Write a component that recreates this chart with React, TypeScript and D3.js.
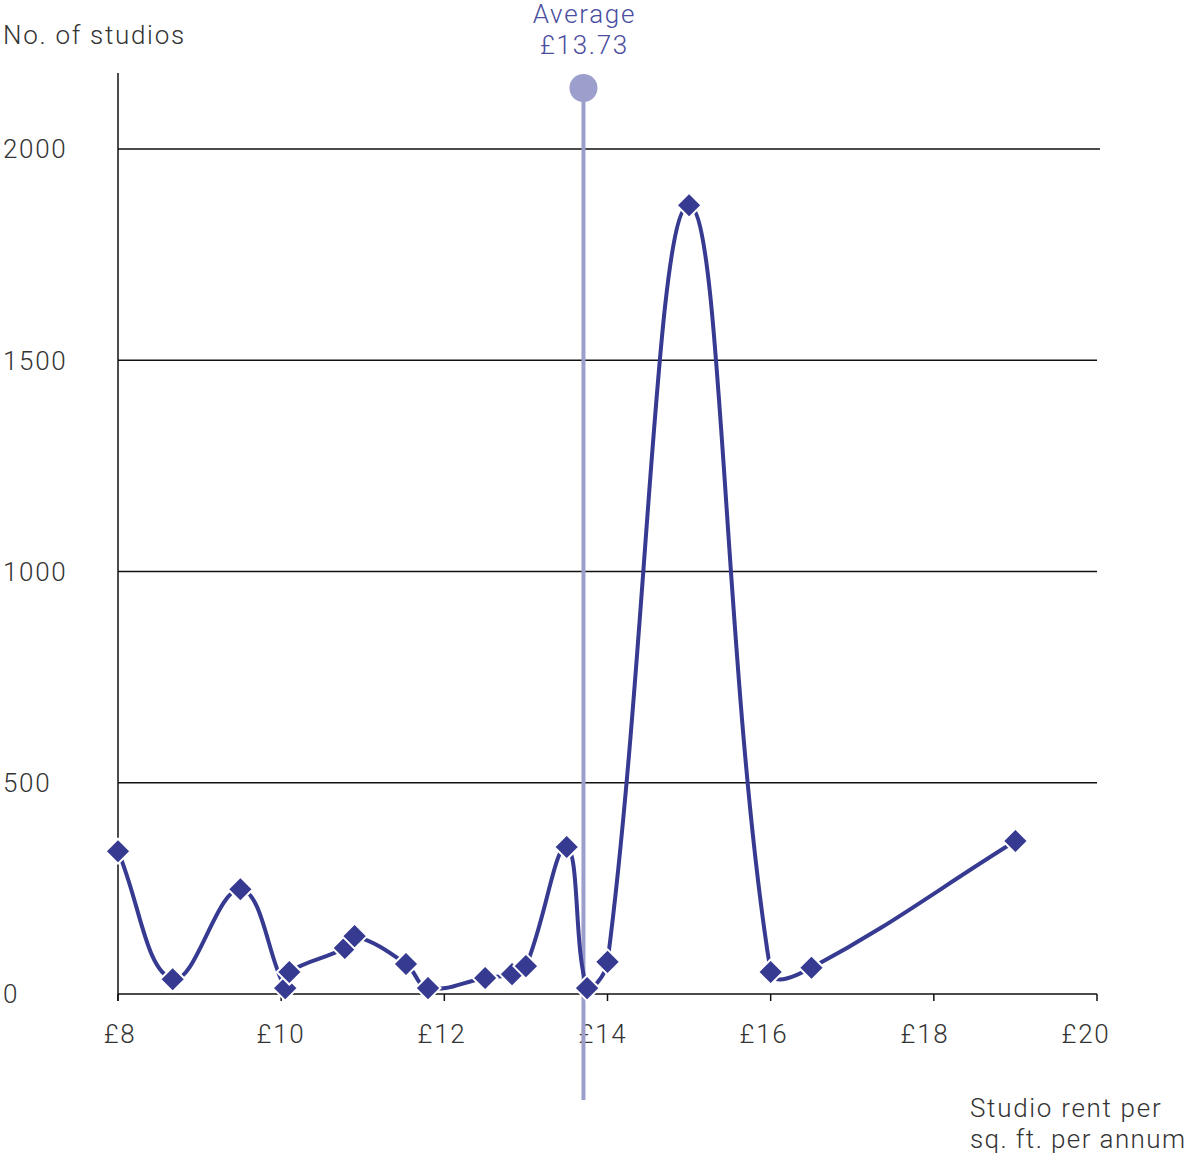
import React from "react";
import * as d3 from "d3";

const rents = [8, 8.67, 9.5, 10.05, 10.1, 10.78, 10.9, 11.53, 11.8, 12.5, 12.83, 13, 13.5, 13.75, 14, 15, 16, 16.5, 19];
const studios = [338, 35, 248, 14, 52, 109, 137, 71, 14, 38, 47, 66, 348, 14, 76, 1867, 52, 62, 362];
const xTicks = [8, 10, 12, 14, 16, 18, 20];
const yTicks = [0, 500, 1000, 1500, 2000];
const averageRent = 13.73;

const W = 1189;
const H = 1153;
const FONT = "Roboto, 'Noto Sans', sans-serif";
const TEXT = "#333";
const SERIES = "#363a91";
const AVG = "#9c9ecb";
const FS = 26;
const LS = 1.7;

type P = { x: number; y: number };

// Chart.js-style spline (tension 0.4) with control points capped to the plot area
function splinePath(pts: P[], t: number, area: { l: number; r: number; t: number; b: number }) {
  const ctrl = pts.map((cur, i) => {
    const prev = i > 0 ? pts[i - 1] : cur;
    const next = i < pts.length - 1 ? pts[i + 1] : cur;
    const d01 = Math.hypot(cur.x - prev.x, cur.y - prev.y);
    const d12 = Math.hypot(next.x - cur.x, next.y - cur.y);
    let s01 = d01 / (d01 + d12);
    let s12 = d12 / (d01 + d12);
    if (isNaN(s01)) s01 = 0;
    if (isNaN(s12)) s12 = 0;
    const fa = t * s01;
    const fb = t * s12;
    const cap = (p: P) => ({
      x: Math.max(area.l, Math.min(area.r, p.x)),
      y: Math.max(area.t, Math.min(area.b, p.y)),
    });
    return {
      prev: cap({ x: cur.x - fa * (next.x - prev.x), y: cur.y - fa * (next.y - prev.y) }),
      next: cap({ x: cur.x + fb * (next.x - prev.x), y: cur.y + fb * (next.y - prev.y) }),
    };
  });
  const p = d3.path();
  pts.forEach((pt, i) => {
    if (i === 0) p.moveTo(pt.x, pt.y);
    else {
      const a = ctrl[i - 1].next;
      const b = ctrl[i].prev;
      p.bezierCurveTo(a.x, a.y, b.x, b.y, pt.x, pt.y);
    }
  });
  return p.toString();
}

export default function App() {
  const x = d3.scaleLinear().domain([8, 20]).range([118, 1097]);
  const xLabel = d3.scaleLinear().domain([8, 20]).range([120, 1086]);
  const y = d3.scaleLinear().domain([0, 2000]).range([994, 149]);
  const pts = rents.map((r, i) => ({ x: x(r), y: y(studios[i]) }));
  const d = splinePath(pts, 0.4, { l: 118, r: 1097, t: 73, b: 994 });
  const rr = 12.5;
  const diamond = `M0,${-rr}L${rr},0L0,${rr}L${-rr},0Z`;
  const ax = x(averageRent) - 2;
  return (
    <svg width={W} height={H} style={{ position: "absolute", left: 0, top: 0, background: "#fff" }}>
      <g fontFamily={FONT} fontWeight={300} fontSize={FS} letterSpacing={LS}>
        <text x={3} y={44} fill={TEXT}>No. of studios</text>
        {yTicks.map((t) => (
          <g key={t}>
            {t > 0 && (
              <line x1={118} x2={t === 2000 ? 1100 : 1097} y1={y(t)} y2={y(t)} stroke="#111" strokeWidth={1.4} />
            )}
            <text x={3} y={y(t)} dy="0.36em" fill={TEXT}>{t}</text>
          </g>
        ))}
        <line x1={118} x2={118} y1={73} y2={1001} stroke="#111" strokeWidth={1.5} />
        <line x1={118} x2={1097} y1={994} y2={994} stroke="#111" strokeWidth={1.5} />
        {xTicks.map((t) => (
          <g key={t}>
            <line x1={x(t)} x2={x(t)} y1={994} y2={1001} stroke="#111" strokeWidth={1.5} />
            <text x={xLabel(t)} y={1043} textAnchor="middle" fill={TEXT}>£{t}</text>
          </g>
        ))}
        <text x={970} y={1117} fill={TEXT}>Studio rent per</text>
        <text x={970} y={1148} fill={TEXT} letterSpacing={1.4}>sq. ft. per annum</text>

        <line x1={ax} x2={ax} y1={88} y2={1100} stroke={AVG} strokeWidth={4} />
        <circle cx={ax} cy={88} r={14} fill={AVG} />
        <text x={ax + 1} y={23} textAnchor="middle" fill="#4a4ea0">Average</text>
        <text x={ax + 1} y={54} textAnchor="middle" fill="#4a4ea0">£{averageRent}</text>

        <path d={d} fill="none" stroke={SERIES} strokeWidth={4} />
        {pts.map((p, i) => (
          <path key={i} d={diamond} transform={`translate(${p.x},${p.y})`} fill={SERIES} stroke="#fff" strokeWidth={2} />
        ))}
      </g>
    </svg>
  );
}
